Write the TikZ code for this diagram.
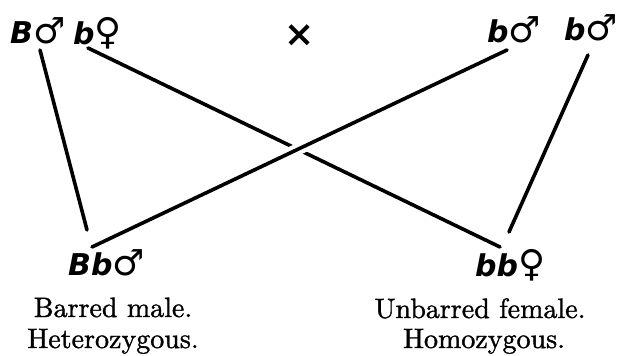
\documentclass[tikz,border=0pt]{standalone}
\usepackage{fontspec}
\usepackage{tikz}
\usetikzlibrary{calc}
\newfontfamily\genefont{DejaVu Sans}
\newfontfamily\labfont{lmroman10-regular}[Extension=.otf,AutoFakeBold=1.2]
\newcommand\msym{{\genefont\mdseries\upshape\fontsize{36}{36}\selectfont ♂}}
\newcommand\fsym{{\genefont\mdseries\upshape\fontsize{37}{37}\selectfont ♀}}

\begin{document}
\begin{tikzpicture}[x=1pt,y=-1pt,
    gene/.style={inner sep=0pt,anchor=base west,font=\genefont\fontsize{30}{32}\selectfont\bfseries\itshape},
    link/.style={line width=3.6pt,line cap=round},
    lab/.style={inner sep=0pt,anchor=base,font=\labfont\fontsize{28}{32}\selectfont\bfseries}]
  \useasboundingbox (0,0) rectangle (619,356);
  % parents
  \node[gene] (Bm) at (10,43) {B\msym};
  \node[gene] (bf) at (73,44) {b\fsym};
  \node[font=\genefont\bfseries\fontsize{36}{36}\selectfont] (cross) at (300,36) {×};
  \node[gene] (bm) at (487,42) {b\msym};
  \node[gene] (bmm) at (564,40) {b\msym};
  % offspring
  \node[gene] (Bb) at (68,275) {Bb\msym};
  \node[gene] (bb) at (475,276) {bb\fsym};
  \foreach \x/\y/\n/\txt in {113/317/Bbl1/{Barred male.}, 113/348/Bbl2/{Heterozygous.},
      480/318/bbl1/{Unbarred female.}, 484/348/bbl2/{Homozygous.}}
    {\node[lab] (\n) at (\x,\y) {\txt};}
  % lines of descent
  \draw[link] ($(Bm.base west)+(30,7)$) -- ($(Bb.base west)+(19,-45)$);
  \draw[link] ($(bf.base west)+(15,4)$) -- ($(bb.base west)+(25,-29)$);
  \draw[link,preaction={draw=white,line width=12pt,shorten <=30pt,shorten >=30pt}]
    ($(Bb.base west)+(24,-28)$) -- ($(bm.base west)+(20,8)$);
  \draw[link] ($(bmm.base west)+(24,15)$) -- ($(bb.base west)+(34,-44)$);
\end{tikzpicture}
\end{document}
